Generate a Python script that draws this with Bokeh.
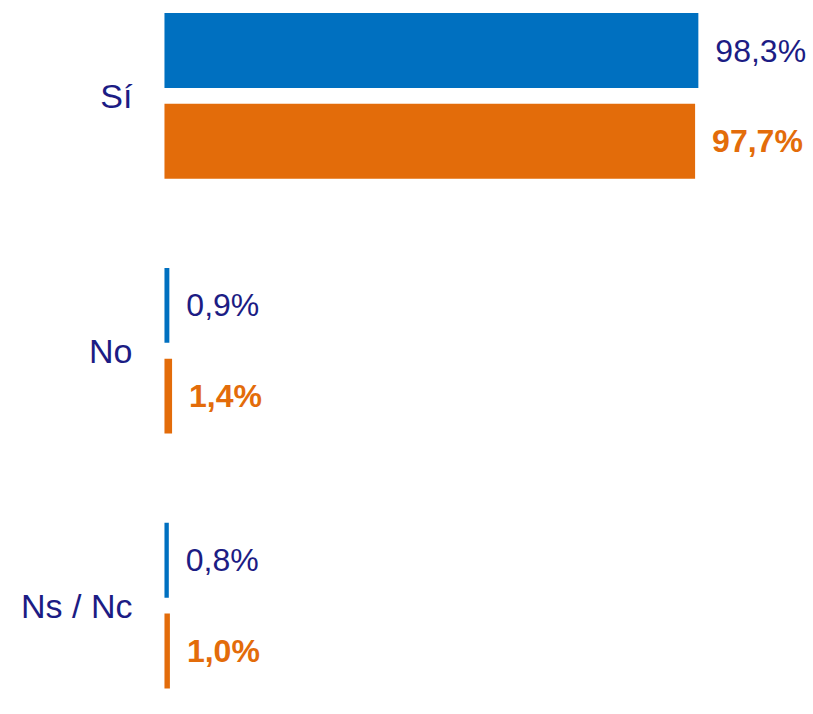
import numpy as np
from bokeh.plotting import figure
from bokeh.models import ColumnDataSource, Range1d
from bokeh.core.properties import value
from bokeh.embed import file_html
from bokeh.resources import INLINE

categories = ["Sí", "No", "Ns / Nc"]
series_a = [98.3, 0.9, 0.8]   # blue
series_b = [97.7, 1.4, 1.0]   # orange
labels_a = ["98,3%", "0,9%", "0,8%"]
labels_b = ["97,7%", "1,4%", "1,0%"]

BLUE = "#0070C0"
ORANGE = "#E36C0A"
NAVY = "#1C1C84"
FONT = "Liberation Sans"

n = len(categories)
pos = np.arange(n)[::-1].astype(float)  # top category first
off = 0.178
bh = 0.294

src_a = ColumnDataSource(dict(y=pos + off, v=series_a, lab=labels_a))
src_b = ColumnDataSource(dict(y=pos - off, v=series_b, lab=labels_b))
src_c = ColumnDataSource(dict(y=pos, x=[0] * n, lab=categories))

p = figure(width=813, height=714, output_backend="svg", toolbar_location=None,
           x_range=Range1d(-30.19, 119.5), y_range=Range1d(-0.4275, 2.3745),
           min_border_left=0, min_border_right=0, min_border_top=0,
           min_border_bottom=0)
p.xaxis.visible = False
p.yaxis.visible = False
p.grid.visible = False
p.outline_line_color = None
p.background_fill_color = "white"
p.border_fill_color = "white"

p.hbar(y="y", right="v", left=0, height=bh, source=src_a, fill_color=BLUE, line_color=None)
p.hbar(y="y", right="v", left=0, height=bh, source=src_b, fill_color=ORANGE, line_color=None)

p.text(x="v", y="y", text="lab", source=src_a, x_offset=17, text_align="left",
       text_baseline="middle", text_color=NAVY, text_font=value(FONT),
       text_font_size="32px")
p.text(x="v", y="y", text="lab", source=src_b, x_offset=17, text_align="left",
       text_baseline="middle", text_color=ORANGE, text_font=value(FONT),
       text_font_size="32px", text_font_style="bold")
p.text(x="x", y="y", text="lab", source=src_c, x_offset=-32, text_align="right",
       text_baseline="middle", text_color=NAVY, text_font=value(FONT),
       text_font_size="34px")

open("out.html", "w").write(file_html(p, INLINE))
